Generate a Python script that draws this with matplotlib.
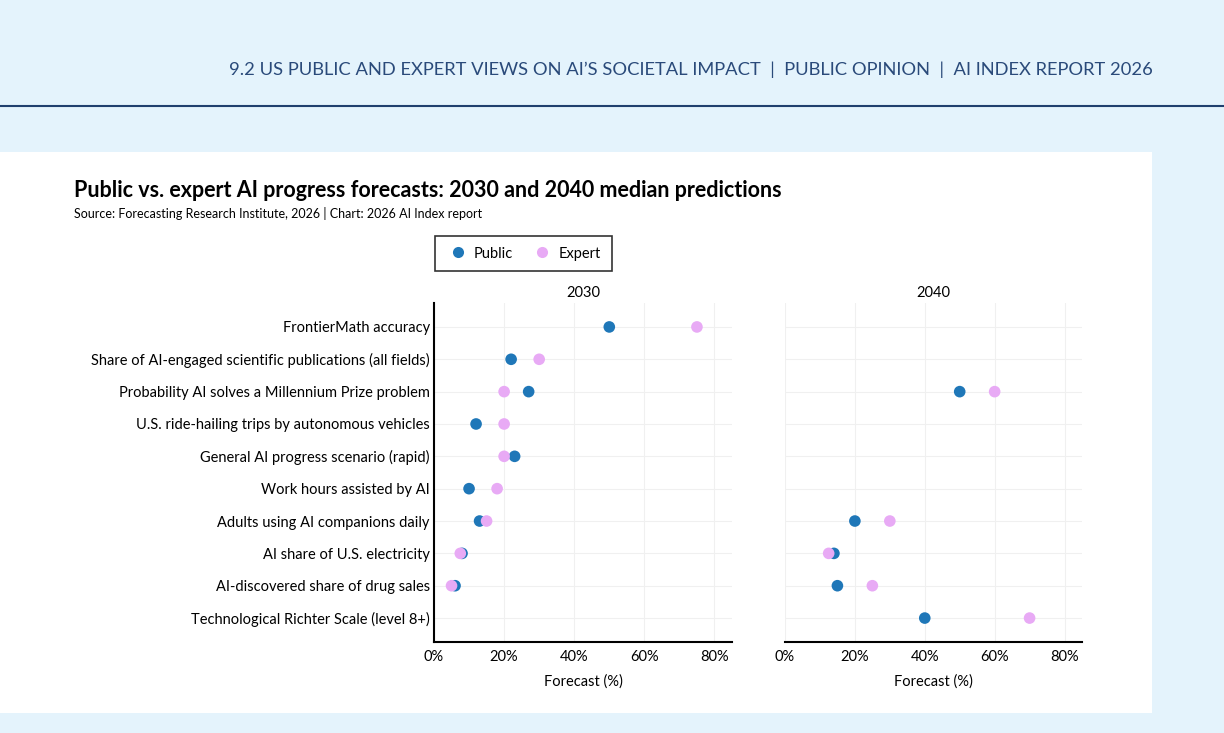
import matplotlib.pyplot as plt
from matplotlib.patches import Rectangle
from matplotlib.lines import Line2D

plt.rcParams['font.family'] = ['Lato', 'DejaVu Sans']

categories = [
    "FrontierMath accuracy",
    "Share of AI-engaged scientific publications (all fields)",
    "Probability AI solves a Millennium Prize problem",
    "U.S. ride-hailing trips by autonomous vehicles",
    "General AI progress scenario (rapid)",
    "Work hours assisted by AI",
    "Adults using AI companions daily",
    "AI share of U.S. electricity",
    "AI-discovered share of drug sales",
    "Technological Richter Scale (level 8+)",
]

# None = no forecast for that year
public_2030 = [50, 22, 27, 12, 23, 10, 13, 8, 6, None]
expert_2030 = [75, 30, 20, 20, 20, 18, 15, 7.5, 5, None]
public_2040 = [None, None, 50, None, None, None, 20, 14, 15, 40]
expert_2040 = [None, None, 60, None, None, None, 30, 12.5, 25, 70]

ticks = [0, 20, 40, 60, 80]
tick_labels = ["0%", "20%", "40%", "60%", "80%"]

blue = "#1f77b8"
pink = "#e8aaf5"
navy = "#1f3f6e"

fig = plt.figure(figsize=(12.24, 7.33), dpi=100)
fig.patch.set_facecolor("#e4f3fc")

W, H = 1224, 733
def fx(px):
    return px / W
def fy(py):
    return 1 - py / H

# white card and header
fig.patches.append(Rectangle((0, fy(713)), fx(1152), fy(152) - fy(713),
                             transform=fig.transFigure, facecolor="white",
                             edgecolor="none", zorder=-5))
fig.lines.append(Line2D([0, 1], [fy(106), fy(106)], transform=fig.transFigure,
                        color=navy, linewidth=1.5))
fig.text(fx(1153), fy(70),
         "9.2 US PUBLIC AND EXPERT VIEWS ON AI\u2019S SOCIETAL IMPACT  |  PUBLIC OPINION  |  AI INDEX REPORT 2026",
         ha="right", va="center", fontsize=13.2, color="#2a4a7a")

fig.text(fx(74), fy(190), "Public vs. expert AI progress forecasts: 2030 and 2040 median predictions",
         ha="left", va="center", fontsize=15.5, fontweight="bold", color="black")
fig.text(fx(74), fy(213), "Source: Forecasting Research Institute, 2026 | Chart: 2026 AI Index report",
         ha="left", va="center", fontsize=9, color="black")

panels = [
    ("2030", public_2030, expert_2030, 434, 732),
    ("2040", public_2040, expert_2040, 785, 1082),
]

ypos = list(range(len(categories)))
for i, (name, pub, exp, x0, x1) in enumerate(panels):
    ax = fig.add_axes([fx(x0), fy(642), fx(x1 - x0), fy(303) - fy(642)], zorder=2)
    ax.set_facecolor("white")
    for vals, col in ((pub, blue), (exp, pink)):
        pts = [(v, y) for v, y in zip(vals, ypos) if v is not None]
        ax.scatter([p[0] for p in pts], [p[1] for p in pts], s=70, color=col,
                   edgecolors="none", zorder=3)
    ax.set_xlim(0, 85)
    ax.set_ylim(len(categories) - 1 + 0.74, -0.74)
    ax.set_xticks(ticks)
    ax.set_xticklabels(tick_labels, fontsize=10.5)
    ax.set_yticks(ypos)
    ax.grid(True, color="#f0f0f0", linewidth=0.8, zorder=0)
    ax.set_axisbelow(True)
    ax.tick_params(axis="x", length=0, pad=6)
    ax.tick_params(axis="y", length=0, pad=3)
    ax.spines["top"].set_visible(False)
    ax.spines["right"].set_visible(False)
    ax.spines["bottom"].set_linewidth(1.5)
    ax.set_xlabel("Forecast (%)", fontsize=10.5, labelpad=7)
    ax.set_title(name, fontsize=10.5, pad=4)
    if i == 0:
        ax.set_yticklabels(categories, fontsize=10.5)
        ax.spines["left"].set_linewidth(1.5)
    else:
        ax.set_yticklabels([])
        ax.spines["left"].set_visible(False)

handles = [
    Line2D([], [], marker="o", linestyle="none", markersize=8, color=blue, markeredgecolor="none", label="Public"),
    Line2D([], [], marker="o", linestyle="none", markersize=8, color=pink, markeredgecolor="none", label="Expert"),
]
leg = fig.legend(handles=handles, loc="center", bbox_to_anchor=(fx(523.5), fy(253.5)), ncol=2,
                 frameon=True, fancybox=False, edgecolor="black", fontsize=10.5,
                 handletextpad=0.3, columnspacing=1.2, borderpad=0.75, borderaxespad=0,
                 handlelength=1.6)
leg.get_frame().set_linewidth(1.2)

fig.savefig("out.png", dpi=100, facecolor=fig.get_facecolor())
